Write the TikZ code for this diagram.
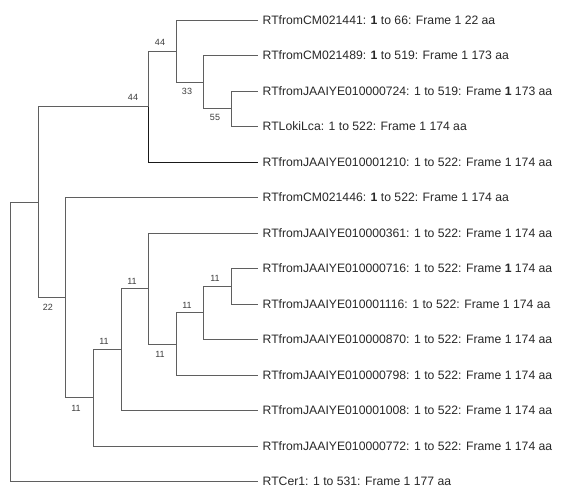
\documentclass[tikz,border=0pt]{standalone}
\usepackage{fontspec}
\setmainfont{Liberation Sans}
\definecolor{branch}{RGB}{95,95,95}
\definecolor{txt}{RGB}{40,40,40}
\definecolor{lbltxt}{RGB}{60,60,60}
\tikzset{
  x=1pt, y=-1pt,
  leaf/.style={anchor=west, inner xsep=4.5pt, inner ysep=0pt, text height=8.7pt, text depth=0pt,
    font=\fontsize{12.2}{14}\selectfont, text=txt},
  lbl/.style={inner sep=0pt, font=\fontsize{9}{10}\selectfont, text=lbltxt},
  br/.style={draw=branch, line width=0.9pt},
  brdark/.style={draw={rgb,255:red,25;green,25;blue,25}, line width=0.95pt}
}
\begin{document}
\begin{tikzpicture}
\useasboundingbox[fill=white] (0,0) rectangle (561,488);
% leaves
\node[leaf] (l1) at (258,20) {RTfromCM021441: \textbf{1} to 66: Frame 1 22 aa};
\node[leaf] (l2) at (258,55.5) {RTfromCM021489: \textbf{1} to 519: Frame 1 173 aa};
\node[leaf] (l3) at (258,91) {RTfromJAAIYE010000724: 1 to 519: Frame \textbf{1} 173 aa};
\node[leaf] (l4) at (258,126.5) {RTLokiLca: 1 to 522: Frame 1 174 aa};
\node[leaf] (l5) at (258,162) {RTfromJAAIYE010001210: 1 to 522: Frame 1 174 aa};
\node[leaf] (l6) at (258,197.5) {RTfromCM021446: \textbf{1} to 522: Frame 1 174 aa};
\node[leaf] (l7) at (258,233) {RTfromJAAIYE010000361: 1 to 522: Frame 1 174 aa};
\node[leaf] (l8) at (258,268.5) {RTfromJAAIYE010000716: 1 to 522: Frame \textbf{1} 174 aa};
\node[leaf] (l9) at (258,304) {RTfromJAAIYE010001116: 1 to 522: Frame 1 174 aa};
\node[leaf] (l10) at (258,339.5) {RTfromJAAIYE010000870: 1 to 522: Frame 1 174 aa};
\node[leaf] (l11) at (258,375) {RTfromJAAIYE010000798: 1 to 522: Frame 1 174 aa};
\node[leaf] (l12) at (258,410.5) {RTfromJAAIYE010001008: 1 to 522: Frame 1 174 aa};
\node[leaf] (l13) at (258,446) {RTfromJAAIYE010000772: 1 to 522: Frame 1 174 aa};
\node[leaf] (l14) at (258,481.5) {RTCer1: 1 to 531: Frame 1 177 aa};
% internal nodes
\coordinate (C) at (231,108.75);
\coordinate (B) at (203,82.1);
\coordinate (A) at (176,51);
\coordinate (D) at (148,106.5);
\coordinate (L) at (231,286.25);
\coordinate (K) at (203,312.9);
\coordinate (J) at (176,344);
\coordinate (I) at (148,288.5);
\coordinate (H) at (121,349.5);
\coordinate (G) at (93,397.7);
\coordinate (F) at (65,297.6);
\coordinate (E) at (38,202);
\coordinate (R) at (10,341.8);
% branches
\draw[br] (C) |- (l3.west);
\draw[br] (C) |- (l4.west);
\draw[br] (B) |- (l2.west);
\draw[br] (B) |- (C);
\draw[br] (A) |- (l1.west);
\draw[br] (A) |- (B);
\draw[br] (D) |- (A);
\draw[brdark] (D) |- (l5.west);
\draw[br] (L) |- (l8.west);
\draw[br] (L) |- (l9.west);
\draw[br] (K) |- (L);
\draw[br] (K) |- (l10.west);
\draw[br] (J) |- (K);
\draw[br] (J) |- (l11.west);
\draw[br] (I) |- (l7.west);
\draw[br] (I) |- (J);
\draw[br] (H) |- (I);
\draw[br] (H) |- (l12.west);
\draw[br] (G) |- (H);
\draw[br] (G) |- (l13.west);
\draw[br] (F) |- (l6.west);
\draw[br] (F) |- (G);
\draw[br] (E) |- (D);
\draw[br] (E) |- (F);
\draw[br] (R) |- (E);
\draw[br] (R) |- (l14.west);
% support labels
\node[lbl] (sA) at (160,42) {44};
\node[lbl] (sB) at (187,91) {33};
\node[lbl] (sC) at (215,117) {55};
\node[lbl] (sD) at (133,97) {44};
\node[lbl] (sF) at (48,307) {22};
\node[lbl] (sG) at (76,408) {11};
\node[lbl] (sH) at (104,341) {11};
\node[lbl] (sI) at (132,281) {11};
\node[lbl] (sJ) at (160,354) {11};
\node[lbl] (sK) at (187,305) {11};
\node[lbl] (sL) at (215,278) {11};
\end{tikzpicture}
\end{document}
